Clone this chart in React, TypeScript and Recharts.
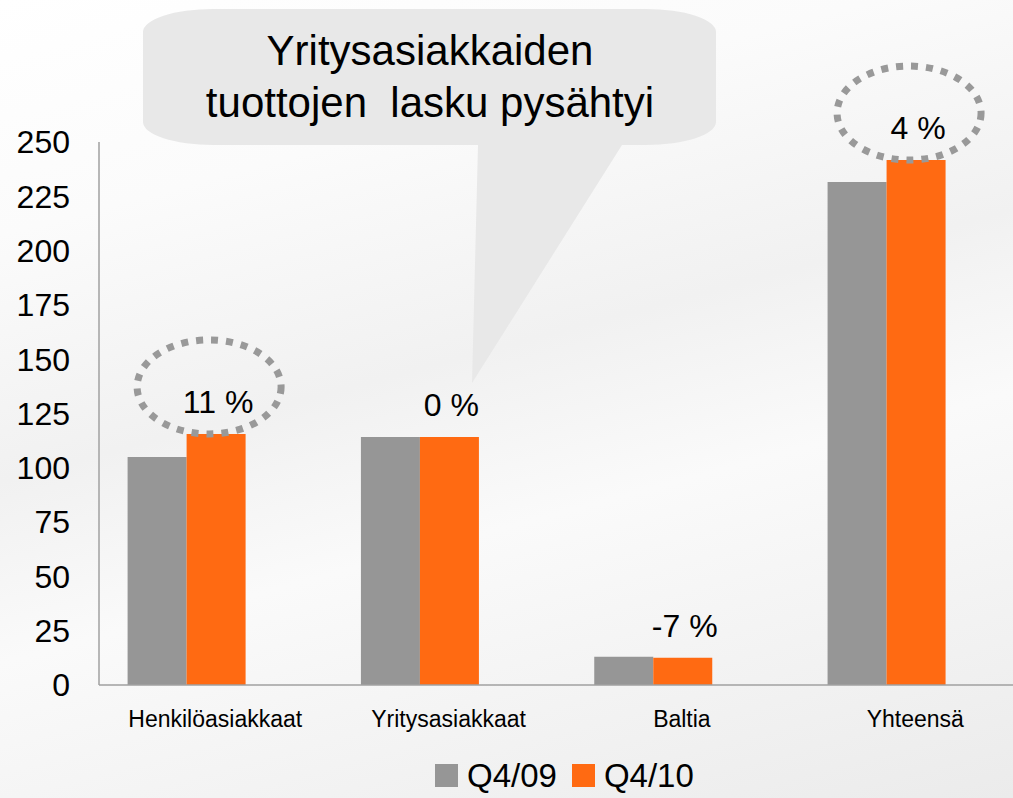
import React from "react";
import { BarChart, Bar, XAxis, YAxis, Legend, LabelList } from "recharts";

const categories = ["Henkilöasiakkaat", "Yritysasiakkaat", "Baltia", "Yhteensä"];
const q409 = [105, 114.2, 13, 231.6];
const q410 = [115.6, 114.2, 12.5, 241.7];
const changeLabels = ["11 %", "0 %", "-7 %", "4 %"];
const circled = [true, false, false, true];
const yTicks = [0, 25, 50, 75, 100, 125, 150, 175, 200, 225, 250];
const seriesNames = ["Q4/09", "Q4/10"];
const calloutLines = ["Yritysasiakkaiden", "tuottojen\u00a0\u00a0lasku pysähtyi"];

const FONT = "'Liberation Sans', Arial, sans-serif";
const GRAY = "#969696";
const ORANGE = "#ff6a12";

const data = categories.map((name, i) => ({
  name,
  q409: q409[i],
  q410: q410[i],
  change: changeLabels[i],
}));

// category names sit a bit right of the bar pairs in the original slide
function CategoryTick(props: any) {
  const { x, y, payload } = props;
  return (
    <text x={x + 29} y={y} dy="0.71em" textAnchor="middle" fontSize={23} fontFamily={FONT} fill="#000">
      {payload.value}
    </text>
  );
}

function ChangeLabel(props: any) {
  const vb = props.viewBox || props;
  const cx = vb.x + vb.width / 2;
  const top = vb.y;
  const i = changeLabels.indexOf(props.value);
  return (
    <g>
      {circled[i] && (
        <ellipse
          cx={cx - 7}
          cy={top - 47}
          rx={72}
          ry={47}
          fill="none"
          stroke="#999999"
          strokeWidth={7}
          strokeDasharray="7 8"
        />
      )}
      <text x={cx + 2} y={top - 21} textAnchor="middle" fontSize={32} fontFamily={FONT} fill="#000">
        {props.value}
      </text>
    </g>
  );
}

function LegendContent(props: any) {
  const items = props.payload || [];
  return (
    <div style={{ display: "flex", alignItems: "center", fontFamily: FONT, fontSize: 33, lineHeight: "33px", color: "#000" }}>
      {items.map((it: any, i: number) => (
        <div key={i} style={{ display: "flex", alignItems: "center", marginRight: 15 }}>
          <span style={{ width: 23, height: 23, background: it.color, display: "inline-block", marginRight: 9 }} />
          <span>{it.value}</span>
        </div>
      ))}
    </div>
  );
}

function Callout() {
  // speech bubble pointing at the Yritysasiakkaat group
  const path =
    "M213,9 H646 A70 23 0 0 1 716 32 V122 A70 23 0 0 1 646 145 H622 L472 383 L478 145 H213 A70 23 0 0 1 143 122 V32 A70 23 0 0 1 213 9 Z";
  return (
    <svg width={1013} height={798} style={{ position: "absolute", left: 0, top: 0, pointerEvents: "none" }}>
      <path d={path} fill="#e8e8e8" />
      {calloutLines.map((t, i) => (
        <text key={i} x={430} y={65 + i * 52} textAnchor="middle" fontSize={42} fontFamily={FONT} fill="#000">
          {t}
        </text>
      ))}
    </svg>
  );
}

export default function App() {
  return (
    <div
      style={{
        position: "absolute",
        left: 0,
        top: 0,
        width: 1013,
        height: 798,
        overflow: "hidden",
        fontFamily: FONT,
        background:
          "linear-gradient(165deg, #ffffff 0%, #fbfbfb 22%, #f1f1f1 45%, #fafafa 62%, #f1f1f1 85%, #ebebeb 100%)",
      }}
    >
      <BarChart
        width={1013}
        height={798}
        data={data}
        margin={{ top: 142, right: 0, bottom: 53, left: 0 }}
        barGap={0}
        barSize={59}
      >
        <XAxis
          dataKey="name"
          height={60}
          padding={{ left: -29.4, right: 10.1 }}
          interval={0}
          tickLine={false}
          tickMargin={20}
          axisLine={{ stroke: "#a0a0a0", strokeWidth: 1.5 }}
          tick={<CategoryTick />}
        />
        <YAxis
          width={99}
          domain={[0, 250]}
          ticks={yTicks}
          interval={0}
          tickLine={false}
          tickMargin={23}
          axisLine={{ stroke: "#a0a0a0", strokeWidth: 1.5 }}
          tick={{ fill: "#000", fontSize: 32, fontFamily: FONT }}
        />
        <Legend
          verticalAlign="middle"
          align="center"
          layout="horizontal"
          wrapperStyle={{ left: 435, top: 759, width: "auto" }}
          content={<LegendContent />}
        />
        <Bar dataKey="q409" name={seriesNames[0]} fill={GRAY} isAnimationActive={false} />
        <Bar dataKey="q410" name={seriesNames[1]} fill={ORANGE} isAnimationActive={false}>
          <LabelList dataKey="change" content={<ChangeLabel />} />
        </Bar>
      </BarChart>
      <Callout />
    </div>
  );
}
